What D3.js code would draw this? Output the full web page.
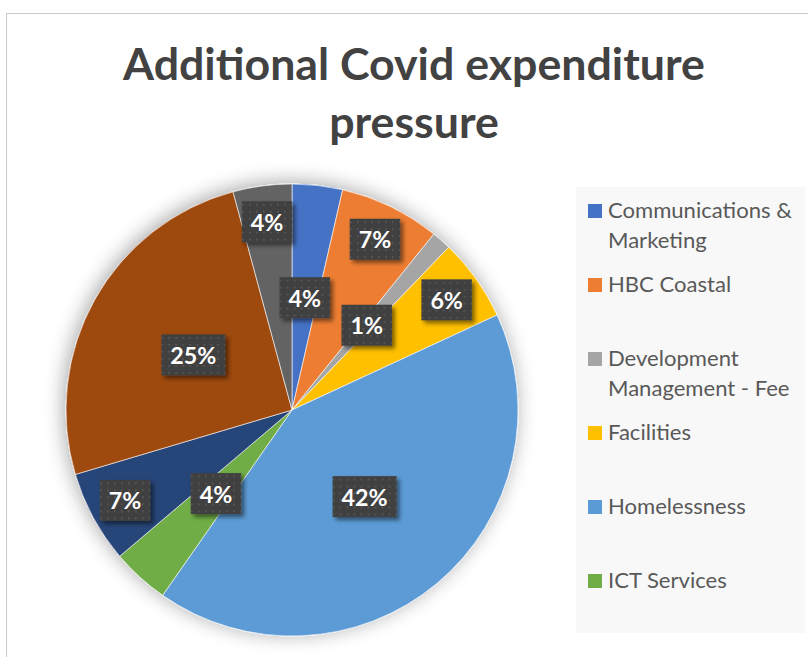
<!DOCTYPE html>
<html>
<head>
<meta charset="utf-8">
<script src="https://cdn.jsdelivr.net/npm/d3@7"></script>
<style>
  body { margin: 0; background: #fff; }
  svg { display: block; }
</style>
</head>
<body>
<div id="chart"></div>
<script>
// Données (parts en %, sens horaire depuis midi)
const categories = [
  'Communications & Marketing',
  'HBC Coastal',
  'Development Management - Fee',
  'Facilities',
  'Homelessness',
  'ICT Services',
  'Other service 7',   // légende coupée sur l'original
  'Other service 8',
  'Other service 9'
];
const shares  = [3.6, 7.2, 1.4, 5.9, 41.6, 4.1, 6.6, 25.4, 4.2];
const colours = ['#4472C4', '#ED7D31', '#A5A5A5', '#FFC000', '#5B9BD5',
                 '#70AD47', '#264478', '#9E480E', '#636363'];
const titleLines = ['Additional Covid expenditure', 'pressure'];

const W = 808, H = 657;
const FONT = 'Lato, "Open Sans", sans-serif';

const svg = d3.select('#chart').append('svg')
  .attr('width', W).attr('height', H)
  .attr('viewBox', `0 0 ${W} ${H}`);

const defs = svg.append('defs');

// ombre douce autour du camembert
const glow = defs.append('filter').attr('id', 'pieShadow')
  .attr('x', '-20%').attr('y', '-20%').attr('width', '140%').attr('height', '140%');
glow.append('feGaussianBlur').attr('in', 'SourceAlpha').attr('stdDeviation', 10).attr('result', 'b');
glow.append('feOffset').attr('in', 'b').attr('dx', -2).attr('dy', -2).attr('result', 'o');
glow.append('feComponentTransfer').attr('in', 'o').attr('result', 's')
  .append('feFuncA').attr('type', 'linear').attr('slope', 0.35);
const gm = glow.append('feMerge');
gm.append('feMergeNode').attr('in', 's');
gm.append('feMergeNode').attr('in', 'SourceGraphic');

// ombre des étiquettes
const lblShadow = defs.append('filter').attr('id', 'lblShadow')
  .attr('x', '-30%').attr('y', '-30%').attr('width', '170%').attr('height', '170%');
lblShadow.append('feGaussianBlur').attr('in', 'SourceAlpha').attr('stdDeviation', 2).attr('result', 'b');
lblShadow.append('feOffset').attr('in', 'b').attr('dx', 3).attr('dy', 3).attr('result', 'o');
lblShadow.append('feComponentTransfer').attr('in', 'o').attr('result', 's')
  .append('feFuncA').attr('type', 'linear').attr('slope', 0.5);
const lm = lblShadow.append('feMerge');
lm.append('feMergeNode').attr('in', 's');
lm.append('feMergeNode').attr('in', 'SourceGraphic');

// motif pointillé des étiquettes
const pat = defs.append('pattern').attr('id', 'dots')
  .attr('width', 7).attr('height', 7).attr('patternUnits', 'userSpaceOnUse');
pat.append('rect').attr('width', 7).attr('height', 7).attr('fill', '#404040');
pat.append('rect').attr('x', 3).attr('y', 3).attr('width', 1.6).attr('height', 1.6).attr('fill', '#5c5c5c');

// cadre du graphique (coupé à droite et en bas)
svg.append('rect')
  .attr('x', 6.5).attr('y', 13.5).attr('width', W + 20).attr('height', H + 20)
  .attr('fill', '#fff').attr('stroke', '#c9c9c9').attr('stroke-width', 1);

// ── Titre ────────────────────────────────────────────────────────────────
const titleG = svg.append('g')
  .attr('font-family', FONT).attr('font-weight', 'bold')
  .attr('fill', '#424242').attr('text-anchor', 'middle');
const t1 = titleG.append('text').attr('x', 414).attr('y', 80).attr('font-size', 44).text(titleLines[0]);
const titleSize = 44 * 582 / t1.node().getComputedTextLength();
t1.attr('font-size', titleSize);
titleG.append('text').attr('x', 414).attr('y', 138).attr('font-size', titleSize).text(titleLines[1]);

// ── Camembert ────────────────────────────────────────────────────────────
const cx = 292, cy = 410, R = 226;
const pie = d3.pie().sort(null).value(d => d);
const arcs = pie(shares);
const arc = d3.arc().innerRadius(0).outerRadius(R);

const gPie = svg.append('g').attr('transform', `translate(${cx},${cy})`);
gPie.append('g').attr('filter', 'url(#pieShadow)')
  .selectAll('path').data(arcs).join('path')
  .attr('d', arc)
  .attr('fill', (d, i) => colours[i])
  .attr('stroke', '#fff').attr('stroke-width', 0.6);

// étiquettes : 50 % du rayon, repoussées vers l'extérieur si chevauchement
const total = d3.sum(shares);
const fmt = v => Math.round(v / total * 100) + '%';
const gLbl = gPie.append('g').attr('font-family', FONT).attr('font-weight', 'bold');

const probe = gLbl.append('text').attr('font-size', 21).text('42%');
const lblSize = 21 * 46 / probe.node().getComputedTextLength();
probe.remove();

const placed = [];
const boxH = 41;
arcs.forEach((d, i) => {
  const txt = fmt(d.value);
  const t = gLbl.append('text').attr('font-size', lblSize).text(txt);
  const tw = t.node().getComputedTextLength();
  t.remove();
  const bw = tw + 18;
  const mid = (d.startAngle + d.endAngle) / 2;
  let pos = null;
  for (const f of [0.5, 0.84]) {
    const p = { x: Math.sin(mid) * R * f, y: -Math.cos(mid) * R * f, w: bw };
    const hit = placed.some(q => Math.abs(q.x - p.x) < (q.w + p.w) / 2 && Math.abs(q.y - p.y) < boxH);
    pos = p;
    if (!hit) break;
  }
  placed.push(pos);
  const g = gLbl.append('g').attr('transform', `translate(${pos.x},${pos.y})`);
  g.append('rect')
    .attr('x', -bw / 2).attr('y', -boxH / 2).attr('width', bw).attr('height', boxH)
    .attr('fill', 'url(#dots)').attr('filter', 'url(#lblShadow)');
  g.append('text')
    .attr('text-anchor', 'middle').attr('dominant-baseline', 'central')
    .attr('font-size', lblSize).attr('fill', '#fff')
    .text(txt);
});

// ── Légende (les entrées qui ne tiennent pas dans le cadre sont omises) ───
const lx = 576, ly = 187, lw = 229, lh = 446;
svg.append('rect').attr('x', lx).attr('y', ly).attr('width', lw).attr('height', lh).attr('fill', '#f8f8f8');

const gLeg = svg.append('g').attr('font-family', FONT).attr('fill', '#595959');

const lp = gLeg.append('text').attr('font-size', 20).text('Communications &');
const legSize = 20 * 184 / lp.node().getComputedTextLength();
lp.remove();

const maxW = 194;
const step = 74;
categories.forEach((name, i) => {
  const base = 218 + i * step;
  if (base + 10 > ly + lh) return;   // hors du cadre de légende
  gLeg.append('rect')
    .attr('x', 588).attr('y', base - 14).attr('width', 14).attr('height', 14)
    .attr('fill', colours[i]);
  const t = gLeg.append('text').attr('x', 608).attr('y', base).attr('font-size', legSize);
  // découpage en lignes
  const words = name.split(' ');
  let line = [];
  let ts = t.append('tspan').attr('x', 608).attr('dy', 0);
  words.forEach(w => {
    line.push(w);
    ts.text(line.join(' '));
    if (ts.node().getComputedTextLength() > maxW && line.length > 1) {
      line.pop();
      ts.text(line.join(' '));
      line = [w];
      ts = t.append('tspan').attr('x', 608).attr('dy', 30).text(w);
    }
  });
});
</script>
</body>
</html>
